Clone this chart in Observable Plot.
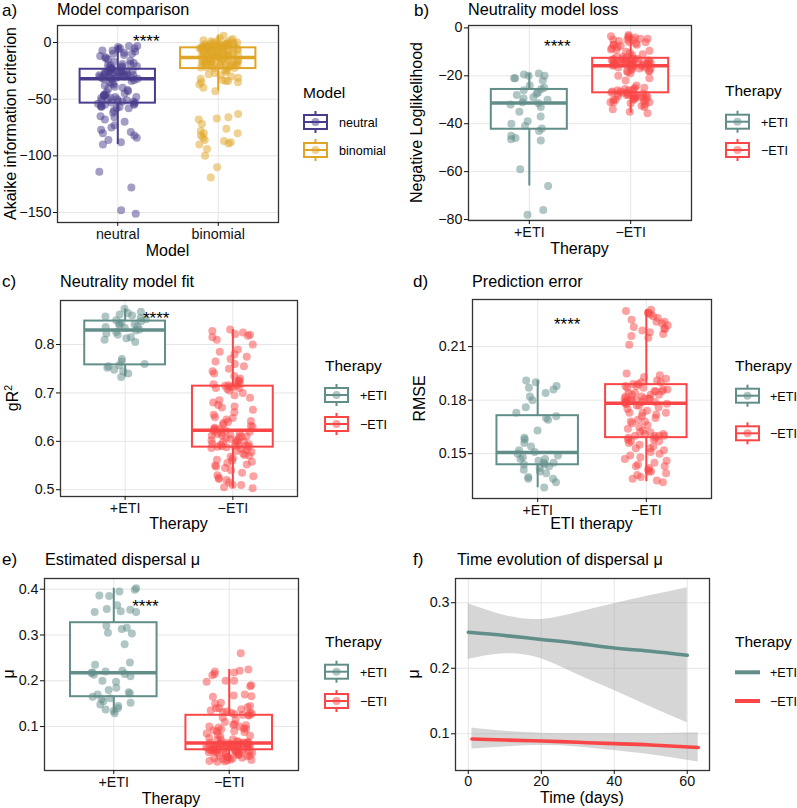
<!DOCTYPE html>
<html><head><meta charset="utf-8">
<script src="https://cdn.jsdelivr.net/npm/d3@7"></script>
<script src="https://cdn.jsdelivr.net/npm/@observablehq/plot@0.6"></script>
<style>
body{margin:0;background:#fff;}
#root{position:relative;width:797px;height:808px;overflow:hidden;background:#fff;font-family:"Liberation Sans",Arial,sans-serif;}
#overlay{position:absolute;left:0;top:0;pointer-events:none;}
</style></head><body><div id="root"></div>
<script>
// ---------- categories & colours ----------
const modelCats = ["neutral", "binomial"];
const modelColors = ["#4A3C8C", "#E0A526"];
const therapyCats = ["+ETI", "−ETI"];
const therapyColors = ["#628E8A", "#FA4646"];

// ---------- a) Akaike information criterion ----------
const aicNeutral = [-3,-3,-4,-5,-5,-6,-7,-7,-8,-9,-10,-10,-11,-12,-13,-14,-15,-16,-17,-18,-19,-19,-20,-20,-21,-21,-22,-22,-23,-23,
  -24,-24,-24,-25,-25,-25,-26,-26,-26,-27,-27,-27,-27,-28,-28,-28,-29,-29,-29,-29,-30,-30,-30,-31,-31,-31,-31,-32,-32,-32,
  -33,-34,-35,-36,-37,-38,-39,-40,-41,-42,-43,-44,-45,-46,-46,-47,-47,-48,-48,-49,-49,-50,-50,-51,-51,-52,-52,-52,-53,-53,
  -54,-54,-55,-55,-56,-56,-57,-57,-58,-58,-60,-62,-65,-66,-68,-70,-73,-75,-77,-79,-80,-82,-84,-86,-88,-90,-114,-128,-148,-151];
const aicBinomial = [6,4,3,2,2,1,1,0,0,-0.5,-1,-1,-1.5,-2,-2,-2,-2.5,-3,-3,-3,-3,-3.5,-3.5,-4,-4,-4,-4,-4.5,-4.5,-4.5,-1,-2,-3,0,-2,-3.5,-4,
  -5,-5,-5.5,-6,-6,-6.5,-7,-7,-7.5,-8,-8,-8.5,-9,-9,-9.5,-10,-10,-10,-10.5,-11,-11,-11.5,-12,-12,-12.5,-13,-13,-5,-6,-7,-8,-9,-10,-11,-12,-13,-6.5,
  -13.5,-14,-14,-14.5,-15,-15,-15.5,-16,-16,-16.5,-17,-17,-17.5,-18,-18,-18.5,-19,-19,-19.5,-20,-20,-20.5,-21,-21,-21.5,-22,-22,-22.5,-23,-14,-15,-16,-17,-18,-19,-20,-21,
  -24,-25,-26,-27,-28,-29,-30,-31,-32,-33,-34,-34,-35,-35,-37,-40,-43,
  -63,-66,-67,-68,-72,-76,-78,-80,-80,-82,-84,-86,-87,-88,-89,-90,-94,-100,-110,-119];
const aicQ1 = [-53.5, -23], aicMed = [-31.9, -13.3], aicQ3 = [-23.6, -4.7], aicLo = [-90, -42.8], aicHi = [-3, 5.9];
const aicTicks = [0, -50, -100, -150];

// ---------- b) Negative Loglikelihood ----------
const nllPlus = [-19,-19.5,-20,-20,-21,-21,-22,-24,-25,-25.5,-26,-27,-27.5,-28,-29,-29.5,-30,-31,
  -31.5,-32,-33,-35,-37,-39,-40,-41,-42,-43,-45,-46,-46.5,-47,-59,-66,-76,-78];
const nllMinus = [-3,-3.5,-4,-4,-4.5,-5,-5,-5.5,-6,-6,-6.5,-7,-7,-7.5,-8,-8.5,-9,-9,-9.5,-10,-10.5,-11,-11.5,-12,-12,-12.5,-3.5,-5,-7,-4.5,
  -13,-13,-13,-13.5,-13.5,-13.5,-14,-14,-14,-14,-14.5,-14.5,-14.5,-15,-15,-15,-15,-15.5,-15.5,-15.5,-13,-14,-15,-13.5,-14.5,-15.5,-13,-14,-15,-15.8,
  -16,-16,-16.5,-17,-17,-17.5,-18,-18,-18.5,-19,-20,-21,-22,-24,-25,-25,-25.5,-26,-26,-26,-26.5,-26.5,-27,-27,-16,-17,-18,-16.5,-25.5,-27,
  -27.5,-27.5,-28,-28,-28,-28.5,-28.5,-29,-29,-29,-29.5,-29.5,-30,-30,-30,-30.5,-31,-31,-31.5,-32,-32.5,-33,-34,-35,-35.6,-28,-29,-30,-31,-27.5];
const nllQ1 = [-42.3, -27.1], nllMed = [-31.3, -15.8], nllQ3 = [-25.7, -12.7], nllLo = [-66, -35.6], nllHi = [-19, -3.2];
const nllTicks = [0, -20, -40, -60, -80];

// ---------- c) gR2 ----------
const gr2Plus = [0.874,0.868,0.865,0.862,0.86,0.858,0.855,0.852,0.85,0.848,0.845,0.843,0.842,0.84,0.838,0.836,0.834,0.831,
  0.829,0.826,0.823,0.82,0.815,0.813,0.81,0.805,0.77,0.765,0.76,0.757,0.755,0.752,0.748,0.745,0.74,0.733];
const gr2Minus = [0.831,0.828,0.825,0.822,0.82,0.818,0.815,0.81,0.8,0.79,0.785,0.78,0.775,0.77,0.765,0.76,0.755,0.75,0.745,0.74,0.735,0.73,0.725,0.72,0.718,0.716,0.715,0.715,0.72,0.725,
  0.713,0.712,0.71,0.71,0.708,0.705,0.7,0.695,0.69,0.685,0.68,0.675,0.672,0.67,0.665,0.66,0.655,0.65,0.648,0.645,0.642,0.64,0.638,0.635,0.632,0.63,0.628,0.626,0.625,0.624,
  0.622,0.62,0.62,0.618,0.617,0.615,0.614,0.612,0.61,0.61,0.608,0.606,0.605,0.603,0.602,0.6,0.6,0.598,0.597,0.595,0.594,0.593,0.592,0.591,0.59,0.59,0.589,0.589,0.588,0.612,
  0.586,0.584,0.582,0.58,0.578,0.575,0.572,0.57,0.568,0.565,0.562,0.56,0.558,0.555,0.552,0.55,0.548,0.545,0.54,0.535,0.53,0.528,0.525,0.522,0.52,0.515,0.51,0.51,0.505,0.503];
const gr2Q1 = [0.758, 0.588], gr2Med = [0.830, 0.623], gr2Q3 = [0.8485, 0.714], gr2Lo = [0.733, 0.503], gr2Hi = [0.874, 0.831];
const gr2Ticks = [0.5, 0.6, 0.7, 0.8];

// ---------- d) RMSE ----------
const rmsePlus = [0.191,0.19,0.188,0.187,0.186,0.184,0.182,0.18,0.176,0.173,0.171,0.17,0.169,0.163,0.159,0.158,0.156,0.154,0.152,0.151,
  0.15,0.149,0.148,0.147,0.147,0.146,0.145,0.145,0.144,0.144,0.143,0.142,0.141,0.14,0.139,0.137,0.136,0.136,0.134,0.131];
const rmseMinus = [0.2306,0.23,0.229,0.228,0.227,0.226,0.225,0.224,0.223,0.222,0.221,0.22,0.219,0.218,0.217,0.216,0.215,0.211,0.195,0.194,0.193,0.192,0.191,0.19,0.19,0.189,0.189,0.229,0.224,0.22,
  0.188,0.188,0.187,0.187,0.186,0.186,0.185,0.185,0.184,0.184,0.183,0.183,0.182,0.182,0.181,0.181,0.181,0.18,0.18,0.18,0.18,0.179,0.179,0.179,0.179,0.178,0.178,0.185,0.183,0.181,
  0.178,0.177,0.177,0.176,0.175,0.174,0.173,0.173,0.172,0.171,0.17,0.169,0.168,0.167,0.166,0.165,0.164,0.163,0.162,0.161,0.161,0.16,0.16,0.16,0.16,0.159,0.159,0.173,0.168,0.162,
  0.158,0.158,0.157,0.156,0.155,0.154,0.153,0.152,0.151,0.15,0.149,0.148,0.147,0.146,0.145,0.144,0.143,0.143,0.142,0.141,0.14,0.14,0.139,0.138,0.137,0.136,0.135,0.134,0.157,0.153];
const rmseQ1 = [0.1438, 0.159], rmseMed = [0.1507, 0.1782], rmseQ3 = [0.1713, 0.1887], rmseLo = [0.1309, 0.1343], rmseHi = [0.1911, 0.2306];
const rmseTicks = [0.15, 0.18, 0.21];

// ---------- e) dispersal mu ----------
const muPlus = [0.402,0.399,0.395,0.386,0.385,0.365,0.357,0.355,0.352,0.35,0.35,
  0.32,0.316,0.313,0.305,0.303,0.28,0.24,0.235,0.222,0.22,0.218,
  0.217,0.215,0.213,0.21,0.2,0.198,0.185,0.18,0.175,0.172,0.17,
  0.165,0.162,0.16,0.155,0.152,0.148,0.145,0.14,0.137,0.134,0.129];
const muMinus = [0.26,0.2246,0.222,0.22,0.218,0.215,0.212,0.2,0.198,0.19,0.188,0.17,0.168,0.166,0.165,0.152,0.15,0.145,0.142,0.14,0.138,0.135,0.133,0.132,0.13,0.13,0.128,0.127,0.126,0.125,0.2,0.14,
  0.124,0.12,0.115,0.11,0.105,0.104,0.103,0.1,0.098,0.096,0.094,0.092,0.09,0.09,0.088,0.085,0.082,0.08,0.078,0.075,0.072,0.07,0.068,0.067,0.066,0.065,0.065,0.064,0.064,0.1,0.095,0.07,
  0.0635,0.063,0.063,0.062,0.062,0.061,0.061,0.06,0.06,0.059,0.059,0.058,0.058,0.057,0.057,0.056,0.056,0.055,0.055,0.054,0.054,0.053,0.053,0.052,0.052,0.051,0.051,0.05,0.05,0.0495,0.06,0.055,
  0.049,0.048,0.048,0.047,0.046,0.046,0.045,0.044,0.044,0.043,0.042,0.041,0.04,0.04,0.039,0.038,0.037,0.036,0.035,0.034,0.033,0.032,0.031,0.03,0.029,0.028,0.027,0.026,0.025,0.024,0.0232,0.045];
const muQ1 = [0.1652, 0.0493], muMed = [0.2174, 0.0638], muQ3 = [0.3268, 0.1246], muLo = [0.129, 0.0232], muHi = [0.402, 0.2246];
const muTicks = [0.1, 0.2, 0.3, 0.4];

// ---------- f) time evolution of mu (smooth fit with CI) ----------
const tPlusDays = [0, 10, 20, 30, 40, 50, 60];
const tPlusFit  = [0.255, 0.250, 0.244, 0.238, 0.231, 0.226, 0.220];
const tPlusLo   = [0.2135, 0.222, 0.2145, 0.19, 0.166, 0.141, 0.117];
const tPlusHi   = [0.2985, 0.2807, 0.2746, 0.285, 0.2985, 0.311, 0.323];
const tMinusDays = [1, 10, 20, 30, 40, 50, 63];
const tMinusFit  = [0.092, 0.0905, 0.089, 0.087, 0.085, 0.083, 0.079];
const tMinusLo   = [0.077, 0.080, 0.082, 0.080, 0.0745, 0.068, 0.057];
const tMinusHi   = [0.109, 0.104, 0.101, 0.100, 0.100, 0.100, 0.1015];
const fYTicks = [0.1, 0.2, 0.3];
const fXTicks = [0, 20, 40, 60];

// ---------- rendering ----------
const FONT = '"Liberation Sans", Arial, sans-serif';
const TICK_FS = "14.3px";
const root = document.getElementById("root");
const GRID = "#e6e6e6";
const fmtSigned = d => d < 0 ? "\u2212" + Math.abs(d) : String(d);

function place(svg, left, top) {
  svg.style.position = "absolute";
  svg.style.left = left + "px";
  svg.style.top = top + "px";
  svg.style.background = "transparent";
  root.appendChild(svg);
}

function boxPanel(c) {
  const rnd = d3.randomUniform.source(d3.randomLcg(c.seed))(-0.2, 0.2);
  const pts = c.series.flatMap((vals, i) => vals.map(v => ({cat: c.cats[i], x: i + 1 + rnd(), v})));
  const boxes = c.cats.map((cat, i) => ({cat, x: i + 1, q1: c.q1[i], med: c.med[i], q3: c.q3[i], lo: c.lo[i], hi: c.hi[i]}));
  const hw = 0.375;
  const svg = Plot.plot({
    width: c.width, height: c.height,
    marginLeft: c.ml, marginRight: c.mr, marginTop: c.mt, marginBottom: c.mb,
    x: {domain: [0.4, 2.6]},
    y: {domain: c.yDomain},
    color: {domain: c.cats, range: c.colors},
    style: {fontFamily: FONT, fontSize: TICK_FS, color: "#111", background: "transparent", overflow: "visible"},
    marks: [
      Plot.gridY(c.yTicks, {stroke: GRID, strokeOpacity: 1, strokeWidth: 1}),
      Plot.gridX([1, 2], {stroke: GRID, strokeOpacity: 1, strokeWidth: 1}),
      Plot.ruleX(boxes, {x: "x", y1: "q3", y2: "hi", stroke: "cat", strokeWidth: 2}),
      Plot.ruleX(boxes, {x: "x", y1: "lo", y2: "q1", stroke: "cat", strokeWidth: 2}),
      Plot.rect(boxes, {x1: d => d.x - hw, x2: d => d.x + hw, y1: "q1", y2: "q3", stroke: "cat", strokeWidth: 2, fill: "white"}),
      Plot.ruleY(boxes, {y: "med", x1: d => d.x - hw, x2: d => d.x + hw, stroke: "cat", strokeWidth: 3.5}),
      Plot.dot(pts, {x: "x", y: "v", fill: "cat", fillOpacity: 0.5, r: 4}),
      Plot.text(["****"], {x: 1, y: c.starY, dx: c.starDx, text: d => d, fontSize: 17, fill: "#000"}),
      Plot.frame({stroke: "#333", strokeWidth: 1.3}),
      Plot.axisY(c.yTicks, {tickSize: 4, tickPadding: 2, tickFormat: c.yFmt, label: null, color: "#111"}),
      Plot.axisX([1, 2], {tickSize: 4, tickPadding: 2, tickFormat: i => c.cats[i - 1], label: null, color: "#111"})
    ]
  });
  place(svg, c.left, c.top);
}

boxPanel({left: 0, top: 0, width: 290, height: 265, ml: 57, mr: 12, mt: 25, mb: 43,
  cats: modelCats, colors: modelColors, series: [aicNeutral, aicBinomial],
  q1: aicQ1, med: aicMed, q3: aicQ3, lo: aicLo, hi: aicHi,
  yDomain: [-158.8, 15], yTicks: aicTicks, yFmt: fmtSigned, starY: 0.9, starDx: 28.5, seed: 0.11});

boxPanel({left: 400, top: 0, width: 300, height: 265, ml: 68, mr: 9, mt: 25, mb: 45,
  cats: therapyCats, colors: therapyColors, series: [nllPlus, nllMinus],
  q1: nllQ1, med: nllMed, q3: nllQ3, lo: nllLo, hi: nllHi,
  yDomain: [-80.4, 1.0], yTicks: nllTicks, yFmt: fmtSigned, starY: -7.7, starDx: 28, seed: 0.22});

boxPanel({left: 0, top: 270, width: 310, height: 268, ml: 60, mr: 13, mt: 30, mb: 42,
  cats: therapyCats, colors: therapyColors, series: [gr2Plus, gr2Minus],
  q1: gr2Q1, med: gr2Med, q3: gr2Q3, lo: gr2Lo, hi: gr2Hi,
  yDomain: [0.486, 0.891], yTicks: gr2Ticks, yFmt: d3.format(".1f"), starY: 0.8534, starDx: 31, seed: 0.33});

boxPanel({left: 400, top: 270, width: 320, height: 268, ml: 72, mr: 9, mt: 29, mb: 40,
  cats: therapyCats, colors: therapyColors, series: [rmsePlus, rmseMinus],
  q1: rmseQ1, med: rmseMed, q3: rmseQ3, lo: rmseLo, hi: rmseHi,
  yDomain: [0.1249, 0.2364], yTicks: rmseTicks, yFmt: d3.format(".2f"), starY: 0.2225, starDx: 29.5, seed: 0.44});

boxPanel({left: 0, top: 540, width: 310, height: 268, ml: 44, mr: 12, mt: 38, mb: 38,
  cats: therapyCats, colors: therapyColors, series: [muPlus, muMinus],
  q1: muQ1, med: muMed, q3: muQ3, lo: muLo, hi: muHi,
  yDomain: [0.004, 0.4234], yTicks: muTicks, yFmt: d3.format(".1f"), starY: 0.3629, starDx: 31.7, seed: 0.55});

// panel f
{
  const rib = [
    ...tPlusDays.map((t, i) => ({cat: therapyCats[0], t, fit: tPlusFit[i], lo: tPlusLo[i], hi: tPlusHi[i]})),
    ...tMinusDays.map((t, i) => ({cat: therapyCats[1], t, fit: tMinusFit[i], lo: tMinusLo[i], hi: tMinusHi[i]}))
  ];
  const svg = Plot.plot({
    width: 320, height: 268, marginLeft: 55, marginRight: 11, marginTop: 38, marginBottom: 38,
    x: {domain: [-3.5, 66.1]},
    y: {domain: [0.044, 0.337]},
    color: {domain: therapyCats, range: therapyColors},
    style: {fontFamily: FONT, fontSize: TICK_FS, color: "#111", background: "transparent", overflow: "visible"},
    marks: [
      Plot.gridY(fYTicks, {stroke: GRID, strokeOpacity: 1}),
      Plot.gridX(fXTicks, {stroke: GRID, strokeOpacity: 1}),
      Plot.areaY(rib, {x: "t", y1: "lo", y2: "hi", z: "cat", fill: "#999999", fillOpacity: 0.4, curve: "natural"}),
      Plot.line(rib, {x: "t", y: "fit", z: "cat", stroke: "cat", strokeWidth: 3.6, curve: "natural"}),
      Plot.frame({stroke: "#333", strokeWidth: 1.3}),
      Plot.axisY(fYTicks, {tickSize: 4, tickPadding: 2, tickFormat: d3.format(".1f"), label: null, color: "#111"}),
      Plot.axisX(fXTicks, {tickSize: 4, tickPadding: 1, label: null, color: "#111"})
    ]
  });
  place(svg, 400, 540);
}

// ---------- overlay: labels, titles, axis titles, legends ----------
const ov = d3.select(root).append("svg").attr("id", "overlay")
  .attr("width", 797).attr("height", 808).style("font-family", FONT);

function txt(s, x, y, size, anchor = "start", rot = false) {
  const t = ov.append("text").attr("font-size", size).attr("fill", "#000").attr("text-anchor", anchor);
  if (rot) t.attr("transform", `translate(${x},${y}) rotate(-90)`);
  else t.attr("x", x).attr("y", y);
  t.text(s);
  return t;
}
[["a)", 2, 15.5], ["b)", 414, 15.5], ["c)", 2, 287], ["d)", 413, 287], ["e)", 2, 565], ["f)", 413, 565]]
  .forEach(([s, x, y]) => txt(s, x, y, 17));
[["Model comparison", 57, 15], ["Neutrality model loss", 468, 15], ["Neutrality model fit", 60, 287],
 ["Prediction error", 472, 287], ["Estimated dispersal μ", 45, 565], ["Time evolution of dispersal μ", 457, 565]]
  .forEach(([s, x, y]) => txt(s, x, y, 16.2));
[["Model", 167.5, 256], ["Therapy", 579.5, 254], ["Therapy", 178.5, 529], ["ETI therapy", 591.5, 529],
 ["Therapy", 171, 804], ["Time (days)", 582, 803]]
  .forEach(([s, x, y]) => txt(s, x, y, 16, "middle"));
[["Akaike information criterion", 16, 123.5], ["Negative Loglikelihood", 422, 122.5], ["RMSE", 425, 398.5],
 ["μ", 14, 674], ["μ", 419, 674]]
  .forEach(([s, x, y]) => txt(s, x, y, 16, "middle", true));
{
  const t = txt("gR", 18, 398, 16, "middle", true);
  t.append("tspan").attr("font-size", 10.5).attr("dy", -6.5).text("2");
}

function legend(title, tx, ty, cats, colors, keyX, centers, labelX, kind) {
  txt(title, tx, ty, 15.5);
  cats.forEach((c, i) => {
    const cy = centers[i], col = colors[i];
    const g = ov.append("g");
    if (kind === "box") {
      const cx = keyX + 11.5;
      g.append("line").attr("x1", cx).attr("x2", cx).attr("y1", cy - 11).attr("y2", cy - 7).attr("stroke", col).attr("stroke-width", 2);
      g.append("line").attr("x1", cx).attr("x2", cx).attr("y1", cy + 7).attr("y2", cy + 11).attr("stroke", col).attr("stroke-width", 2);
      g.append("rect").attr("x", keyX).attr("y", cy - 7).attr("width", 23).attr("height", 14).attr("fill", "white").attr("stroke", col).attr("stroke-width", 2);
      g.append("line").attr("x1", keyX).attr("x2", keyX + 23).attr("y1", cy).attr("y2", cy).attr("stroke", col).attr("stroke-width", 2);
      g.append("circle").attr("cx", cx).attr("cy", cy).attr("r", 4).attr("fill", col).attr("fill-opacity", 0.5);
    } else {
      g.append("line").attr("x1", keyX).attr("x2", keyX + 25).attr("y1", cy).attr("y2", cy).attr("stroke", col).attr("stroke-width", 4);
    }
    txt(c, labelX, cy + 4.8, 12.6);
  });
}
legend("Model", 303, 98, modelCats, modelColors, 304, [122, 150], 339, "box");
legend("Therapy", 725, 96, therapyCats, therapyColors, 726, [121.7, 150], 761, "box");
legend("Therapy", 325, 371, therapyCats, therapyColors, 325, [395, 424], 360, "box");
legend("Therapy", 735, 371, therapyCats, therapyColors, 736, [395.7, 433.3], 770, "box");
legend("Therapy", 325, 647, therapyCats, therapyColors, 325, [671.7, 701], 360, "box");
legend("Therapy", 735, 647, therapyCats, therapyColors, 735, [672.3, 701], 770, "line");
</script></body></html>
